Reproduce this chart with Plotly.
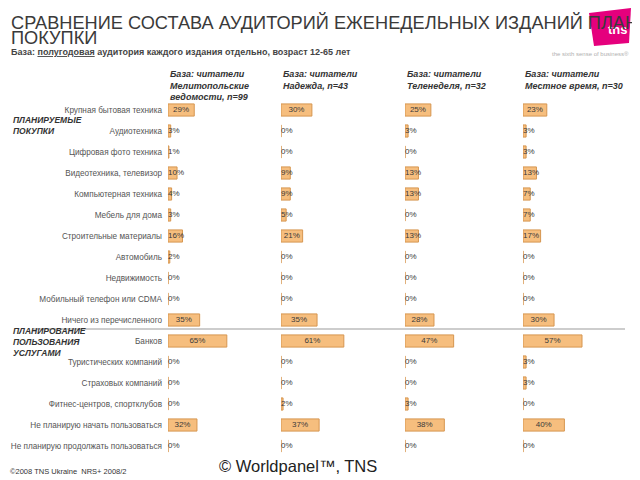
import plotly.graph_objects as go

categories = [
    "Крупная бытовая техника", "Аудиотехника", "Цифровая фото техника",
    "Видеотехника, телевизор", "Компьютерная техника", "Мебель для дома",
    "Строительные материалы", "Автомобиль", "Недвижимость",
    "Мобильный телефон или CDMA", "Ничего из перечисленного",
    "Банков", "Туристических компаний", "Страховых компаний",
    "Фитнес-центров, спортклубов", "Не планирую начать пользоваться",
    "Не планирую продолжать пользоваться",
]
col_titles = [
    "База: читатели<br>Мелитопольские<br>ведомости, n=99",
    "База: читатели<br>Надежда, n=43",
    "База: читатели<br>Теленеделя, n=32",
    "База: читатели<br>Местное время, n=30",
]
melitopol = [29, 3, 1, 10, 4, 3, 16, 2, 0, 0, 35, 65, 0, 0, 0, 32, 0]
nadezhda = [30, 0, 0, 9, 9, 5, 21, 0, 0, 0, 35, 61, 0, 0, 2, 37, 0]
teleweek = [25, 3, 0, 13, 13, 0, 13, 0, 0, 0, 28, 47, 0, 0, 3, 38, 0]
mestnoe = [23, 3, 3, 13, 7, 7, 17, 0, 0, 0, 30, 57, 3, 3, 0, 40, 0]
series = [melitopol, nadezhda, teleweek, mestnoe]

OFF = 8  # page body margin
W, H = 640 - OFF, 480 - OFF
FONT = "Arial, Liberation Sans, sans-serif"

def px(x):
    return (x - OFF) / W

def py(y):
    return 1 - (y - OFF) / H

# column pixel extents (start, width for 100%)
cols = [(168, 90.5), (281, 103), (405, 103.5), (523, 103.5)]
idx = list(range(len(categories)))

fig = go.Figure()
for j, vals in enumerate(series):
    xa = "x" if j == 0 else f"x{j+1}"
    fig.add_trace(go.Bar(
        x=vals, y=idx, orientation="h", xaxis=xa, yaxis="y",
        width=0.58,
        marker=dict(color="#F6BE7E", line=dict(color="#D69650", width=1)),
        hoverinfo="skip", showlegend=False,
    ))
    tx = [v / 2 if v >= 20 else 0 for v in vals]
    tp = ["middle center" if v >= 20 else "middle right" for v in vals]
    fig.add_trace(go.Scatter(
        x=tx, y=idx, mode="text", xaxis=xa, yaxis="y",
        text=[f"{v}%" for v in vals], textposition=tp,
        textfont=dict(family=FONT, size=8, color="#3a3a3a"),
        hoverinfo="skip", showlegend=False, cliponaxis=False,
    ))

layout = dict(
    width=W, height=H, margin=dict(l=0, r=0, t=0, b=0),
    paper_bgcolor="white", plot_bgcolor="white",
    font=dict(family=FONT),
    yaxis=dict(
        domain=[py(456.5), py(99.5)], range=[16.5, -0.5],
        tickvals=idx, ticktext=categories,
        tickfont=dict(family=FONT, size=8.2, color="#555555"),
        showgrid=False, zeroline=False, showline=False, ticks="",
        anchor="x", ticklabelstandoff=5,
    ),
)
for j, (x0, w) in enumerate(cols):
    key = "xaxis" if j == 0 else f"xaxis{j+1}"
    layout[key] = dict(
        domain=[px(x0), px(x0 + w)], range=[0, 100], anchor="y",
        showgrid=False, zeroline=False, showline=False,
        showticklabels=False, ticks="",
    )
fig.update_layout(**layout)

# separator line
fig.add_shape(type="line", xref="paper", yref="paper",
              x0=px(33), x1=px(625), y0=py(329), y1=py(329),
              line=dict(color="#BDBDBD", width=1.5))
# logo shape (drawn below the title text)
logo_pts = [(589, 13), (631, 8), (629, 43), (594, 46)]
path = "M " + " L ".join(f"{px(x)},{py(y)}" for x, y in logo_pts) + " Z"
fig.add_shape(type="path", xref="paper", yref="paper", path=path,
              fillcolor="#E5007D", line=dict(width=0), layer="below")

ann = []
ann.append(dict(text="<b>tns</b>", x=px(618), y=py(30), xanchor="center", yanchor="middle",
                font=dict(family=FONT, size=13, color="white")))
ann.append(dict(text="СРАВНЕНИЕ СОСТАВА АУДИТОРИЙ ЕЖЕНЕДЕЛЬНЫХ ИЗДАНИЙ ПЛАНИРУЕМЫЕ",
                x=px(9), y=py(22), xanchor="left", yanchor="middle",
                font=dict(family=FONT, size=18.2, color="#3a3a3a")))
ann.append(dict(text="ПОКУПКИ", x=px(9), y=py(37.5), xanchor="left", yanchor="middle",
                font=dict(family=FONT, size=18.2, color="#3a3a3a")))
ann.append(dict(text="<b>База: <u>полугодовая</u> аудитория каждого издания отдельно, возраст 12-65 лет</b>",
                x=px(9), y=py(52), xanchor="left", yanchor="middle",
                font=dict(family=FONT, size=9, color="#444444")))
for (x0, w), t in zip(cols, col_titles):
    ann.append(dict(text=f"<b><i>{t}</i></b>", x=px(x0), y=py(67), xanchor="left",
                    yanchor="top", align="left",
                    font=dict(family=FONT, size=9, color="#333333")))
ann.append(dict(text="<b><i>ПЛАНИРУЕМЫЕ<br>ПОКУПКИ</i></b>", x=px(11), y=py(113),
                xanchor="left", yanchor="top", align="left",
                font=dict(family=FONT, size=8.5, color="#333333")))
ann.append(dict(text="<b><i>ПЛАНИРОВАНИЕ<br>ПОЛЬЗОВАНИЯ<br>УСЛУГАМИ</i></b>", x=px(11), y=py(324),
                xanchor="left", yanchor="top", align="left",
                font=dict(family=FONT, size=8.5, color="#333333")))
ann.append(dict(text="the sixth sense of business\u00ae", x=px(631), y=py(54),
                xanchor="right", yanchor="middle",
                font=dict(family=FONT, size=6, color="#b0b0b0")))
ann.append(dict(text="©2008 TNS Ukraine  NRS+ 2008/2", x=px(8), y=py(471),
                xanchor="left", yanchor="middle",
                font=dict(family=FONT, size=7.5, color="#333333")))
ann.append(dict(text="© Worldpanel™, TNS", x=px(298), y=py(466),
                xanchor="center", yanchor="middle",
                font=dict(family=FONT, size=16.5, color="#222222")))
for a in ann:
    a.setdefault("xref", "paper")
    a.setdefault("yref", "paper")
    a.setdefault("showarrow", False)
fig.update_layout(annotations=ann)

fig.write_html("out.html")
